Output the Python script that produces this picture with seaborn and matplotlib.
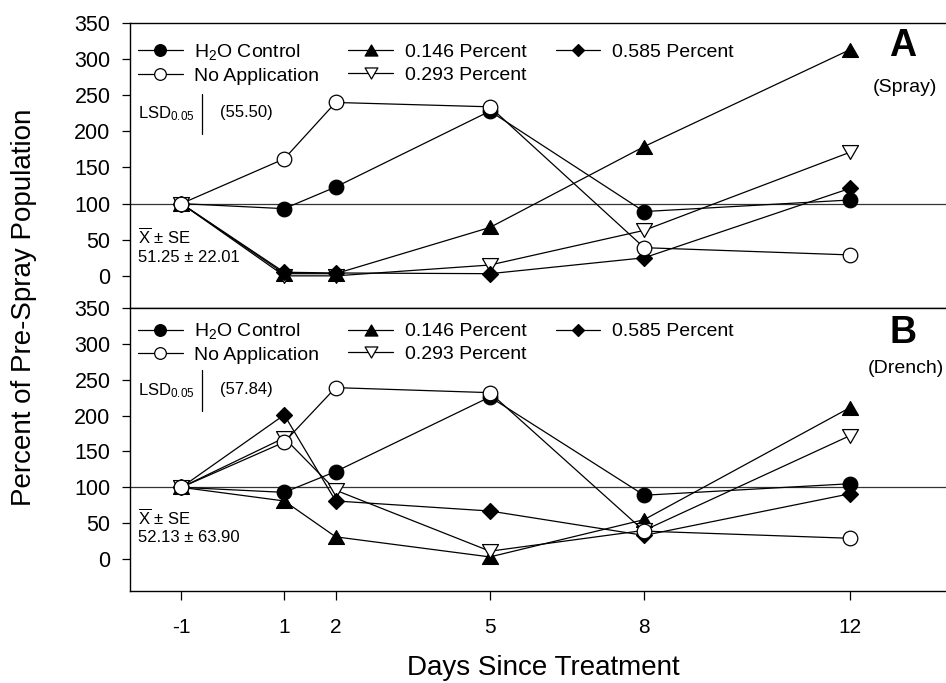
import numpy as np
import pandas as pd
import matplotlib
matplotlib.use("Agg")
import matplotlib.pyplot as plt
from matplotlib.path import Path
import seaborn as sns

# Days since treatment (shared by both panels)
days = [-1, 1, 2, 5, 8, 12]

treatments = ["H2O Control", "No Application", "0.146 Percent", "0.293 Percent", "0.585 Percent"]
legend_labels = ["H$_2$O Control", "No Application", "0.146 Percent", "0.293 Percent", "0.585 Percent"]

# Panel A (Spray) - percent of pre-spray population
spray_h2o = [100, 93, 123, 228, 89, 105]
spray_noapp = [100, 162, 240, 234, 39, 29]
spray_146 = [100, 3, 3, 67, 179, 313]
spray_293 = [100, 0, 0, 15, 63, 171]
spray_585 = [100, 5, 4, 3, 25, 121]

# Panel B (Drench)
drench_h2o = [100, 93, 122, 226, 89, 105]
drench_noapp = [100, 163, 239, 232, 39, 29]
drench_146 = [100, 81, 31, 3, 55, 211]
drench_293 = [100, 169, 96, 11, 40, 172]
drench_585 = [100, 201, 81, 67, 33, 91]

lsd_values = [55.50, 57.84]
mean_se = ["51.25 ± 22.01", "52.13 ± 63.90"]
panel_letters = ["A", "B"]
panel_names = ["(Spray)", "(Drench)"]


def tri(up=True):
    # equilateral-ish triangle, closed path
    s = 1 if up else -1
    verts = [(0, s * 0.866), (-1, -s * 0.866), (1, -s * 0.866), (0, s * 0.866)]
    return Path(verts, closed=True)


styles = {
    "H2O Control": dict(marker="o", mfc="black", ms=10.5),
    "No Application": dict(marker="o", mfc="white", ms=10.5),
    "0.146 Percent": dict(marker=tri(True), mfc="black", ms=11.5),
    "0.293 Percent": dict(marker=tri(False), mfc="white", ms=11.5),
    "0.585 Percent": dict(marker="D", mfc="black", ms=8.2),
}
draw_order = ["H2O Control", "0.146 Percent", "0.293 Percent", "0.585 Percent", "No Application"]

panels = [
    dict(zip(treatments, [spray_h2o, spray_noapp, spray_146, spray_293, spray_585])),
    dict(zip(treatments, [drench_h2o, drench_noapp, drench_146, drench_293, drench_585])),
]

sns.set_style("ticks")
plt.rcParams["font.family"] = ["Liberation Sans", "DejaVu Sans"]
plt.rcParams["mathtext.fontset"] = "custom"
plt.rcParams["mathtext.rm"] = "Liberation Sans"
plt.rcParams["mathtext.it"] = "Liberation Sans:italic"
plt.rcParams["mathtext.bf"] = "Liberation Sans:bold"
for k in ["text.color", "axes.labelcolor", "xtick.color", "ytick.color", "axes.edgecolor"]:
    plt.rcParams[k] = "black"

W, H = 946, 683
fig = plt.figure(figsize=(W / 100, H / 100), dpi=100)
ax_a = fig.add_axes([130 / W, 1 - 308 / H, 816 / W, 285 / H])
ax_b = fig.add_axes([130 / W, 1 - 591 / H, 816 / W, 283 / H])
axes = [ax_a, ax_b]
legend_y = [0.96, 0.98]

for i, ax in enumerate(axes):
    data = panels[i]
    ax.axhline(100, color="#333333", lw=0.9, zorder=1)
    handles = {}
    for t in draw_order:
        df = pd.DataFrame({"day": days, "pct": data[t]})
        st = styles[t]
        sns.lineplot(data=df, x="day", y="pct", ax=ax, color="black", lw=0.9,
                     marker=st["marker"], markersize=st["ms"], markerfacecolor=st["mfc"],
                     markeredgecolor="black", markeredgewidth=0.9, zorder=3)
        handles[t] = ax.get_lines()[-1]

    ax.set_xlim(-2.0, 13.87)
    ax.set_ylim(-44.5, 350)
    ax.set_yticks(np.arange(0, 351, 50))
    ax.set_xlabel("")
    ax.set_ylabel("")
    ax.spines["right"].set_visible(False)
    for sp in ["left", "top", "bottom"]:
        ax.spines[sp].set_linewidth(1.0)
        ax.spines[sp].set_color("black")
    ax.tick_params(axis="y", direction="out", length=6, width=0.9, pad=8, labelsize=15.5)

    ax.legend([handles[t] for t in treatments], legend_labels, ncol=3,
              loc="upper left", bbox_to_anchor=(0.0, legend_y[i]),
              frameon=False, fontsize=14, handlelength=2.3, handletextpad=0.6,
              columnspacing=1.5, labelspacing=0.25, borderaxespad=0.0,
              borderpad=0.4, markerscale=0.8)

    # LSD bar and text
    lsd_center = 224 if i == 0 else 235
    ax.plot([-0.59, -0.59], [lsd_center - lsd_values[i] / 2, lsd_center + lsd_values[i] / 2],
            color="black", lw=0.9)
    ax.text(-1.84, lsd_center, "LSD$_{0.05}$", fontsize=12, va="center", ha="left")
    ax.text(-0.25, lsd_center + 2, f"({lsd_values[i]:.2f})", fontsize=12, va="center", ha="left")

    # mean +/- SE
    y0 = 54 if i == 0 else 58
    ax.text(-1.84, y0, r"$\overline{\mathrm{X}}$ ± SE", fontsize=12, va="center", ha="left")
    ax.text(-1.84, y0 - 28, mean_se[i], fontsize=12, va="center", ha="left")

    # panel letter
    ax.text(13.03, 318 if i == 0 else 315, panel_letters[i], fontsize=27, fontweight="bold",
            ha="center", va="center")
    ax.text(13.08, 261 if i == 0 else 265, panel_names[i], fontsize=14, ha="center", va="center")

ax_a.tick_params(axis="x", bottom=False, labelbottom=False)
ax_b.set_xticks(days)
ax_b.set_xticklabels([str(d) for d in days])
ax_b.tick_params(axis="x", direction="out", length=6.5, width=0.9, pad=13, labelsize=15)

fig.text(543 / W, 1 - 668 / H, "Days Since Treatment", fontsize=20, ha="center", va="center")
fig.text(11 / W, 1 - 307 / H, "Percent of Pre-Spray Population", fontsize=20,
         rotation=90, ha="left", va="center")

fig.savefig("out.png", dpi=100)
